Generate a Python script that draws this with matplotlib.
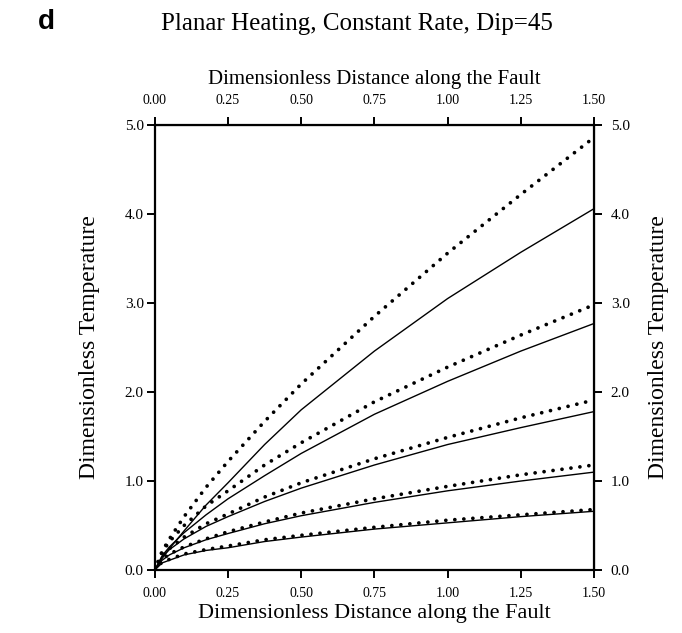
import matplotlib
matplotlib.use("Agg")
import matplotlib.pyplot as plt
from matplotlib.ticker import FormatStrFormatter

# distance along the fault (dimensionless)
x = [0, 0.025, 0.05, 0.1, 0.175, 0.25, 0.375, 0.5, 0.75, 1.0, 1.25, 1.5]

# dotted curves (top to bottom)
dot1 = [0, 0.21, 0.35, 0.60, 0.93, 1.22, 1.67, 2.09, 2.85, 3.56, 4.22, 4.86]
dot2 = [0, 0.20, 0.32, 0.50, 0.72, 0.89, 1.18, 1.43, 1.89, 2.28, 2.64, 2.98]
dot3 = [0, 0.16, 0.24, 0.37, 0.52, 0.63, 0.82, 0.98, 1.25, 1.49, 1.71, 1.91]
dot4 = [0, 0.12, 0.18, 0.26, 0.35, 0.43, 0.54, 0.64, 0.80, 0.94, 1.07, 1.18]
dot5 = [0, 0.09, 0.12, 0.18, 0.23, 0.27, 0.34, 0.39, 0.48, 0.56, 0.62, 0.68]

# solid curves (top to bottom)
sol1 = [0, 0.13, 0.24, 0.44, 0.73, 0.98, 1.41, 1.80, 2.46, 3.05, 3.57, 4.06]
sol2 = [0, 0.16, 0.26, 0.42, 0.62, 0.80, 1.06, 1.31, 1.75, 2.12, 2.46, 2.77]
sol3 = [0, 0.15, 0.23, 0.35, 0.49, 0.60, 0.77, 0.92, 1.18, 1.41, 1.60, 1.78]
sol4 = [0, 0.11, 0.17, 0.25, 0.34, 0.41, 0.52, 0.61, 0.76, 0.89, 1.00, 1.10]
sol5 = [0, 0.08, 0.11, 0.17, 0.22, 0.25, 0.32, 0.37, 0.46, 0.53, 0.60, 0.66]

xticks = [0.0, 0.25, 0.5, 0.75, 1.0, 1.25, 1.5]
yticks = [0.0, 1.0, 2.0, 3.0, 4.0, 5.0]

plt.rcParams["font.family"] = ["Liberation Serif", "DejaVu Serif"]

fig = plt.figure(figsize=(6.82, 6.33), dpi=100)
ax = fig.add_axes([0.227, 0.0995, 0.644, 0.703])

for d in [dot1, dot2, dot3, dot4, dot5]:
    ax.plot(x, d, color="black", lw=2.7, linestyle=(0, (0.01, 2.4)),
            dash_capstyle="round", solid_capstyle="round")
for s in [sol1, sol2, sol3, sol4, sol5]:
    ax.plot(x, s, color="black", lw=1.0)

ax.set_xlim(0, 1.5)
ax.set_ylim(0, 5.0)
ax.set_xticks(xticks)
ax.set_yticks(yticks)
ax.xaxis.set_major_formatter(FormatStrFormatter("%.2f"))
ax.yaxis.set_major_formatter(FormatStrFormatter("%.1f"))
for sp in ax.spines.values():
    sp.set_linewidth(1.6)
ax.tick_params(axis="x", labelsize=10, width=1.4, length=6, pad=6)
ax.tick_params(axis="y", labelsize=11, width=1.4, length=6, pad=2)
ax.set_xlabel("Dimensionless Distance along the Fault", fontsize=16, labelpad=3)
ax.set_ylabel("Dimensionless Temperature", fontsize=17, labelpad=18)

top = ax.secondary_xaxis("top")
top.set_xticks(xticks)
top.xaxis.set_major_formatter(FormatStrFormatter("%.2f"))
top.tick_params(labelsize=10, width=1.4, length=6, pad=7)
top.set_xlabel("Dimensionless Distance along the Fault", fontsize=15, labelpad=7)

right = ax.secondary_yaxis("right")
right.set_yticks(yticks)
right.yaxis.set_major_formatter(FormatStrFormatter("%.1f"))
right.tick_params(labelsize=11, width=1.4, length=6, pad=6)
right.set_ylabel("Dimensionless Temperature", fontsize=17, labelpad=13)

fig.text(0.524, 0.962, "Planar Heating, Constant Rate, Dip=45", fontsize=18,
         ha="center", va="center")
fig.text(0.055, 0.965, "d", fontsize=20, fontweight="bold",
         family=["Liberation Sans", "DejaVu Sans"], ha="left", va="center")

fig.savefig("out.png", dpi=100)
